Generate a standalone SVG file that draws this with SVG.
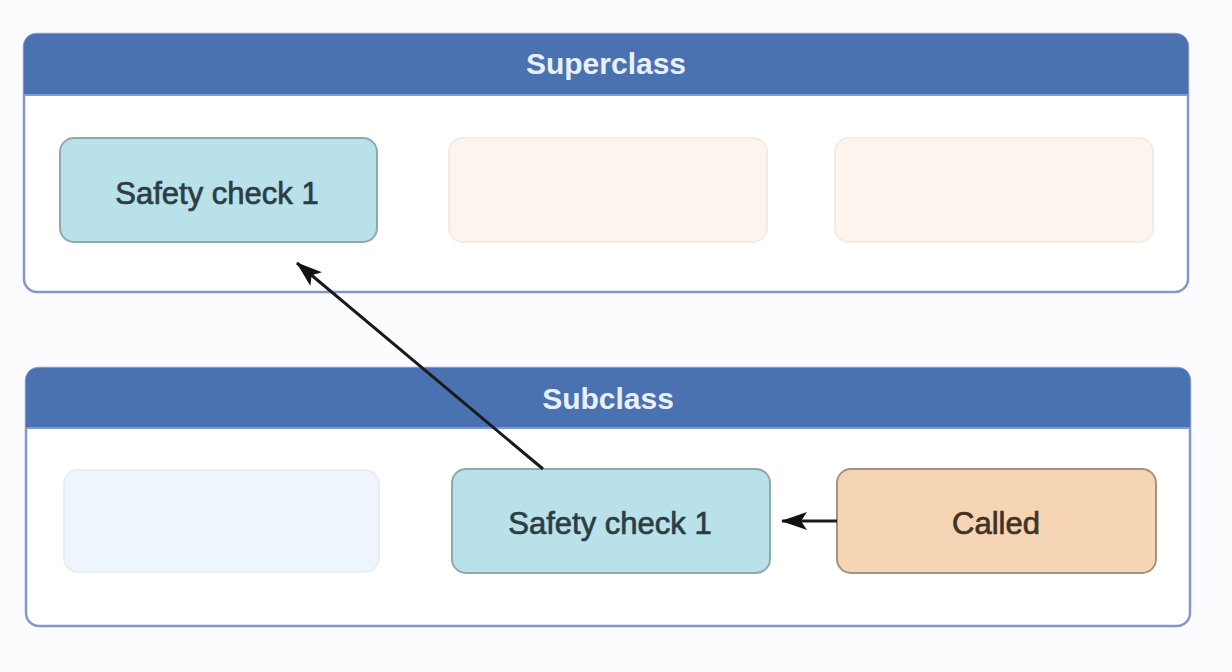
<svg xmlns="http://www.w3.org/2000/svg" width="1232" height="672" viewBox="0 0 1232 672">
  <defs>
    <marker id="arrow" viewBox="0 0 26 18" refX="25" refY="9" markerWidth="26" markerHeight="18" markerUnits="userSpaceOnUse" orient="auto">
      <path d="M0,0 L26,9 L0,18 L6,9 Z" fill="#111"/>
    </marker>
  </defs>
  <style>
    .panel { fill: #ffffff; stroke: #8595cf; stroke-width: 2.5; }
    .header { fill: #4a72b0; }
    .htext { font-family: "Liberation Sans", Arial, sans-serif; font-weight: bold; font-size: 30px; fill: #e8f0ff; text-anchor: middle; }
    .ntext { font-family: "Liberation Sans", Arial, sans-serif; font-size: 31px; text-anchor: middle; stroke-width: 0.7; }
    .check { fill: #b9e1e9; stroke: #8fa8ad; stroke-width: 2; }
    .called { fill: #f5d5b4; stroke: #a39384; stroke-width: 2; }
    .ghost-warm { fill: #fdf4ee; stroke: #f3ece6; stroke-width: 2; }
    .ghost-cool { fill: #eef5fc; stroke: #ebedef; stroke-width: 2; }
    .conn { stroke: #1a1a1a; stroke-width: 3; fill: none; }
  </style>
  <rect width="1232" height="672" fill="#fcfcfe"/>

  <g id="superclass">
    <rect class="panel" x="24" y="34" width="1164" height="258" rx="13"/>
    <path class="header" d="M24,95 V47 Q24,34 37,34 H1175 Q1188,34 1188,47 V95 Z"/>
    <line x1="24" y1="95" x2="1188" y2="95" stroke="#7d9ae0" stroke-width="2"/>
    <text class="htext" x="606" y="74">Superclass</text>
  </g>

  <g id="subclass">
    <rect class="panel" x="26" y="368" width="1164" height="258" rx="13"/>
    <path class="header" d="M26,428 V381 Q26,368 39,368 H1177 Q1190,368 1190,381 V428 Z"/>
    <line x1="26" y1="428" x2="1190" y2="428" stroke="#7d9ae0" stroke-width="2"/>
    <text class="htext" x="608" y="409">Subclass</text>
  </g>

  <g id="super-check">
    <rect class="check" x="60" y="138" width="317" height="104" rx="14"/>
    <text class="ntext" x="217" y="204" fill="#2c3d44" stroke="#2c3d44">Safety check 1</text>
  </g>
  <g id="super-mid">
    <rect class="ghost-warm" x="449" y="138" width="318" height="104" rx="14"/>
  </g>
  <g id="super-right">
    <rect class="ghost-warm" x="835" y="138" width="318" height="104" rx="14"/>
  </g>

  <g id="sub-left">
    <rect class="ghost-cool" x="64" y="470" width="315" height="102" rx="14"/>
  </g>
  <g id="sub-check">
    <rect class="check" x="452" y="469" width="318" height="104" rx="14"/>
    <text class="ntext" x="610" y="534" fill="#2c3d44" stroke="#2c3d44">Safety check 1</text>
  </g>
  <g id="called">
    <rect class="called" x="837" y="469" width="319" height="104" rx="14"/>
    <text class="ntext" x="996" y="534" fill="#3f3327" stroke="#3f3327">Called</text>
  </g>

  <g id="connectors">
    <line class="conn" x1="543" y1="469" x2="297" y2="263" marker-end="url(#arrow)"/>
    <line class="conn" x1="837" y1="521" x2="782" y2="521" marker-end="url(#arrow)"/>
  </g>
</svg>
